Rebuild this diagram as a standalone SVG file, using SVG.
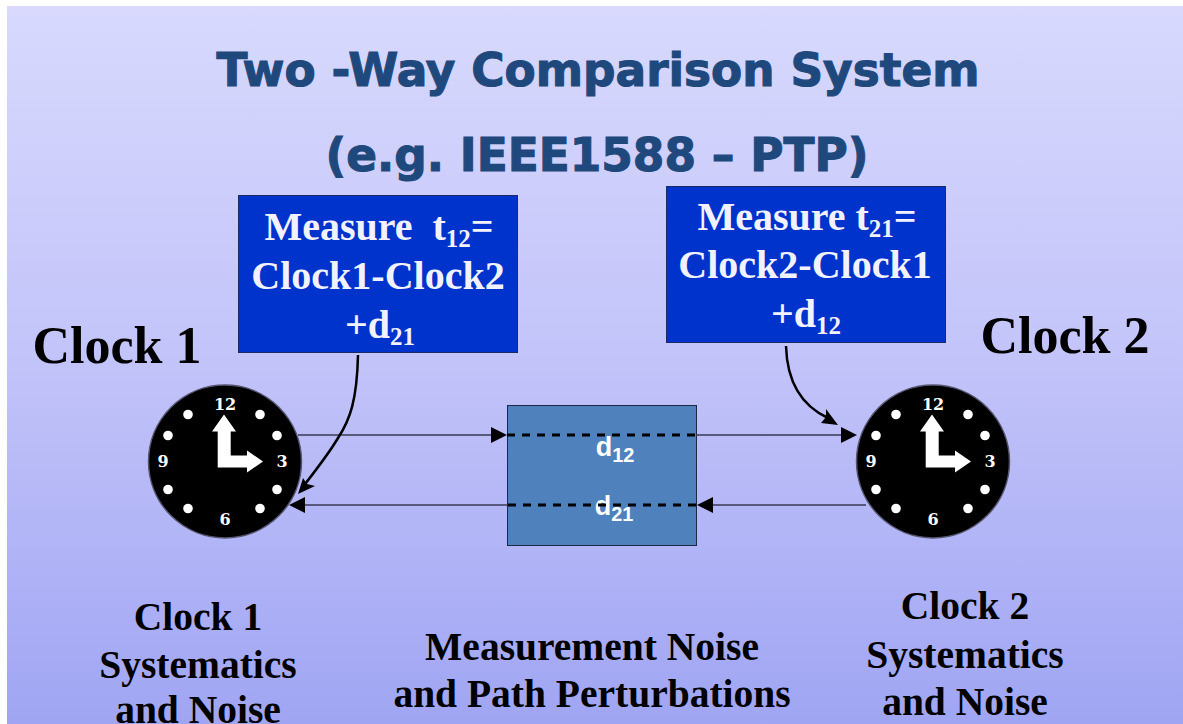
<svg xmlns="http://www.w3.org/2000/svg" width="1183" height="724" viewBox="0 0 1183 724">
<style>
.t{font-family:"DejaVu Sans",Verdana,sans-serif;font-weight:700;font-size:45.4px;fill:#1f497d;stroke:#1f497d;stroke-width:1.1px;text-anchor:middle}
.b{font-family:"Liberation Serif","Times New Roman",serif;font-weight:700;fill:#000;text-anchor:middle}
.w{font-family:"Liberation Serif","Times New Roman",serif;font-weight:700;font-size:40px;fill:#f2f2ff;text-anchor:middle;white-space:pre}
.d{font-family:"Liberation Sans",Arial,sans-serif;font-weight:700;font-size:27px;fill:#fff;text-anchor:middle}
.n{font-family:"DejaVu Serif",serif;font-weight:700;fill:#fff;text-anchor:middle;font-size:16px}
.line{stroke:#3a3a55;stroke-width:1.5;fill:none}
.dash{stroke:#000;stroke-width:3;stroke-dasharray:8 7;fill:none}
.curve{stroke:#000;stroke-width:2.5;fill:none}
</style>
<defs>
<linearGradient id="bg" x1="0" y1="0" x2="0" y2="1"><stop offset="0" stop-color="#d8d9fd"/><stop offset="0.5" stop-color="#c2c3f9"/><stop offset="1" stop-color="#a0a5f3"/></linearGradient>
<g id="clock">
<circle r="76.500" fill="#000" stroke="#55556f" stroke-width="1.5"/>
<g fill="#fff"><circle cx="-37" cy="-47" r="4.8"/><circle cx="35" cy="-47" r="4.8"/><circle cx="-57" cy="-26" r="4.8"/><circle cx="52" cy="-26" r="4.8"/><circle cx="-57" cy="28" r="4.8"/><circle cx="52" cy="28" r="4.8"/><circle cx="-37" cy="47" r="4.8"/><circle cx="35" cy="47" r="4.8"/>
<polygon points="-1,-47 11,-30 5.700,-30 5.700,-6 22,-6 22,-11 38,0 22,11 22,6 -7.300,6 -7.300,-30 -13,-30"/></g>
<text class="n" x="0" y="-52">12</text><text class="n" x="57" y="5">3</text><text class="n" x="0" y="63">6</text><text class="n" x="-62" y="5">9</text>
</g>
</defs>
<rect width="1183" height="724" fill="#fff"/>
<rect x="7" y="6" width="1176" height="718" fill="url(#bg)"/>
<text class="t" x="598" y="86">Two -Way Comparison System</text>
<text class="t" x="597" y="171">(e.g. IEEE1588 – PTP)</text>
<g id="clock1-label"><text class="b" x="117" y="363" font-size="52">Clock 1</text></g>
<g id="clock2-label"><text class="b" x="1065" y="353" font-size="52">Clock 2</text></g>
<g id="measure1"><rect x="238.500" y="195.500" width="279" height="157" fill="#0033cc" stroke="#1a2a66"/>
<text class="w" x="379" y="240">Measure  t<tspan font-size="25" dy="7">12</tspan><tspan dy="-7">=</tspan></text>
<text class="w" x="378" y="289">Clock1-Clock2</text>
<text class="w" x="380" y="338">+d<tspan font-size="25" dy="7">21</tspan></text></g>
<g id="measure2"><rect x="666.500" y="186.500" width="279" height="156" fill="#0033cc" stroke="#1a2a66"/>
<text class="w" x="807" y="230">Measure t<tspan font-size="25" dy="7">21</tspan><tspan dy="-7">=</tspan></text>
<text class="w" x="805" y="278">Clock2-Clock1</text>
<text class="w" x="806" y="327">+d<tspan font-size="25" dy="7">12</tspan></text></g>
<g id="clock1"><use href="#clock" transform="translate(225,461.500)"/></g>
<g id="clock2"><use href="#clock" transform="translate(933,461.500)"/></g>
<g id="path"><rect x="507.500" y="405.500" width="189" height="140" fill="#4f81bd" stroke="#1a2a44"/>
<text class="d" x="615" y="456">d<tspan font-size="20" dy="6">12</tspan></text>
<text class="d" x="614" y="515">d<tspan font-size="20" dy="6">21</tspan></text></g>
<g id="connectors">
<line class="line" x1="298" y1="435" x2="492" y2="435"/>
<polygon points="507,435 491,427 491,443"/>
<line class="dash" x1="507" y1="435" x2="696" y2="435"/>
<line class="line" x1="696" y1="435" x2="841" y2="435"/>
<polygon points="857,435 841,427 841,443"/>
<line class="line" x1="866" y1="505" x2="712" y2="505"/>
<polygon points="697,505 713,497 713,513"/>
<line class="dash" x1="696" y1="505" x2="507" y2="505"/>
<line class="line" x1="507" y1="505" x2="304" y2="505"/>
<polygon points="289,505 305,497 305,513"/>
<path class="curve" d="M358 355C357 400 350 420 338 438C328 455 312 475 302 488"/>
<polygon points="298,494 303,478 307,484 315,486"/>
<path class="curve" d="M786 346C787 380 800 405 828 418"/>
<polygon points="838,425 821,423 826,417 826,409"/>
</g>
<g id="noise1"><text class="b" x="198" y="630" font-size="39.500">Clock 1</text><text class="b" x="198" y="678" font-size="39.500">Systematics</text><text class="b" x="198" y="723" font-size="39.500">and Noise</text></g>
<g id="noise-path"><text class="b" x="592" y="660" font-size="39.500">Measurement Noise</text><text class="b" x="592" y="707" font-size="39.500">and Path Perturbations</text></g>
<g id="noise2"><text class="b" x="965" y="619" font-size="39.500">Clock 2</text><text class="b" x="965" y="668" font-size="39.500">Systematics</text><text class="b" x="965" y="715" font-size="39.500">and Noise</text></g>
</svg>
